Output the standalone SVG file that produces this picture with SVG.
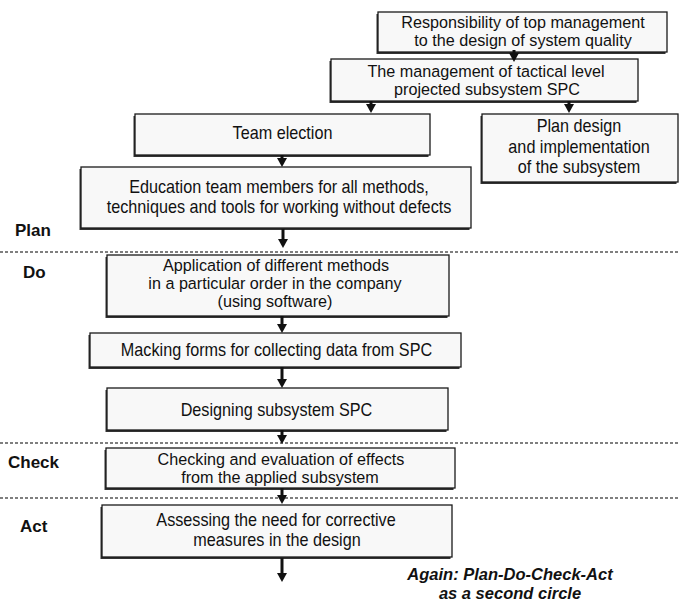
<svg xmlns="http://www.w3.org/2000/svg" width="680" height="604" viewBox="0 0 680 604">
<defs>
<style>
.sh{fill:#333}
.bx{fill:#f8f8f8;stroke:#1a1a1a;stroke-width:1.3}
.t{font-family:"Liberation Sans",Arial,sans-serif;font-size:18px;fill:#111;text-anchor:middle}
.t2{font-family:"Liberation Sans",Arial,sans-serif;font-size:16.5px;fill:#111;text-anchor:middle}
.lb{font-family:"Liberation Sans",Arial,sans-serif;font-size:17px;font-weight:bold;fill:#111}
.ag{font-family:"Liberation Sans",Arial,sans-serif;font-size:16.5px;font-weight:bold;font-style:italic;fill:#111;text-anchor:middle}
.dv{stroke:#555;stroke-width:1.6;stroke-dasharray:3 2;fill:none}
.ar{stroke:#111;stroke-width:3;fill:none;marker-end:url(#ah)}
</style>
<marker id="ah" viewBox="0 0 9 10" markerWidth="9" markerHeight="10" refX="0" refY="5" orient="auto" markerUnits="userSpaceOnUse">
<path d="M0,0 L9,5 L0,10 z" fill="#111"/>
</marker>
</defs>
<rect width="680" height="604" fill="#fff"/>

<g id="dividers">
<line class="dv" x1="0" y1="252" x2="680" y2="252"/>
<line class="dv" x1="0" y1="443" x2="680" y2="443"/>
<line class="dv" x1="0" y1="498" x2="680" y2="498"/>
</g>

<g id="phase-labels">
<text class="lb" x="15" y="236">Plan</text>
<text class="lb" x="23" y="278">Do</text>
<text class="lb" x="8" y="468">Check</text>
<text class="lb" x="20" y="532">Act</text>
</g>

<g id="n1">
<rect class="sh" x="376.5" y="14" width="289" height="40"/>
<rect class="bx" x="378" y="12" width="289" height="40"/>
<text class="t2" transform="translate(523,28) scale(0.98,1)">Responsibility of top management</text>
<text class="t2" transform="translate(523,46) scale(0.98,1)">to the design of system quality</text>
</g>

<g id="n2">
<rect class="sh" x="329.5" y="61" width="307" height="42"/>
<rect class="bx" x="331" y="59" width="307" height="42"/>
<text class="t2" transform="translate(486,76.5) scale(0.98,1)">The management of tactical level</text>
<text class="t2" transform="translate(487,94.5) scale(0.98,1)">projected subsystem SPC</text>
</g>

<g id="n3">
<rect class="sh" x="133.5" y="116" width="295" height="41"/>
<rect class="bx" x="135" y="114" width="295" height="41"/>
<text class="t" transform="translate(282.5,139) scale(0.9,1)">Team election</text>
</g>

<g id="n4">
<rect class="sh" x="79.5" y="169" width="390" height="61"/>
<rect class="bx" x="81" y="167" width="390" height="61"/>
<text class="t" transform="translate(279,193) scale(0.9,1)">Education team members for all methods,</text>
<text class="t" transform="translate(279,212.5) scale(0.9,1)">techniques and tools for working without defects</text>
</g>

<g id="n5">
<rect class="sh" x="480.5" y="116" width="196" height="68"/>
<rect class="bx" x="482" y="114" width="196" height="68"/>
<text class="t" transform="translate(579,132) scale(0.9,1)">Plan design</text>
<text class="t" transform="translate(579,152.5) scale(0.9,1)">and implementation</text>
<text class="t" transform="translate(579,172.5) scale(0.9,1)">of the subsystem</text>
</g>

<g id="n6">
<rect class="sh" x="105.5" y="257" width="342" height="61"/>
<rect class="bx" x="107" y="255" width="342" height="61"/>
<text class="t2" transform="translate(276,271) scale(0.98,1)">Application of different methods</text>
<text class="t2" transform="translate(275,289) scale(0.98,1)">in a particular order in the company</text>
<text class="t2" transform="translate(275,307) scale(0.98,1)">(using software)</text>
</g>

<g id="n7">
<rect class="sh" x="88.5" y="335" width="371" height="34"/>
<rect class="bx" x="90" y="333" width="371" height="34"/>
<text class="t" transform="translate(276.5,356) scale(0.9,1)">Macking forms for collecting data from SPC</text>
</g>

<g id="n8">
<rect class="sh" x="105.5" y="390" width="341" height="42"/>
<rect class="bx" x="107" y="388" width="341" height="42"/>
<text class="t" transform="translate(276.5,416) scale(0.9,1)">Designing subsystem SPC</text>
</g>

<g id="n9">
<rect class="sh" x="104.5" y="450" width="349" height="40"/>
<rect class="bx" x="106" y="448" width="349" height="40"/>
<text class="t2" transform="translate(281,464.5) scale(0.98,1)">Checking and evaluation of effects</text>
<text class="t2" transform="translate(280,482.5) scale(0.98,1)">from the applied subsystem</text>
</g>

<g id="n10">
<rect class="sh" x="100.5" y="507" width="350" height="52"/>
<rect class="bx" x="102" y="505" width="350" height="52"/>
<text class="t" transform="translate(276,526) scale(0.9,1)">Assessing the need for corrective</text>
<text class="t" transform="translate(277,546) scale(0.9,1)">measures in the design</text>
</g>

<g id="connectors">
<line class="ar" x1="514" y1="50" x2="514" y2="53"/>
<line class="ar" x1="371" y1="101" x2="371" y2="104"/>
<line class="ar" x1="569" y1="101" x2="569" y2="104"/>
<line class="ar" x1="282" y1="155" x2="282" y2="158"/>
<line class="ar" x1="283" y1="229" x2="283" y2="239"/>
<line class="ar" x1="282" y1="316" x2="282" y2="324"/>
<line class="ar" x1="282" y1="367" x2="282" y2="379"/>
<line class="ar" x1="282" y1="430" x2="282" y2="435"/>
<line class="ar" x1="282" y1="488" x2="282" y2="495"/>
<line class="ar" x1="282" y1="558" x2="282" y2="573"/>
</g>

<g id="note">
<text class="ag" x="510" y="580">Again: Plan-Do-Check-Act</text>
<text class="ag" x="510" y="599">as a second circle</text>
</g>
</svg>
